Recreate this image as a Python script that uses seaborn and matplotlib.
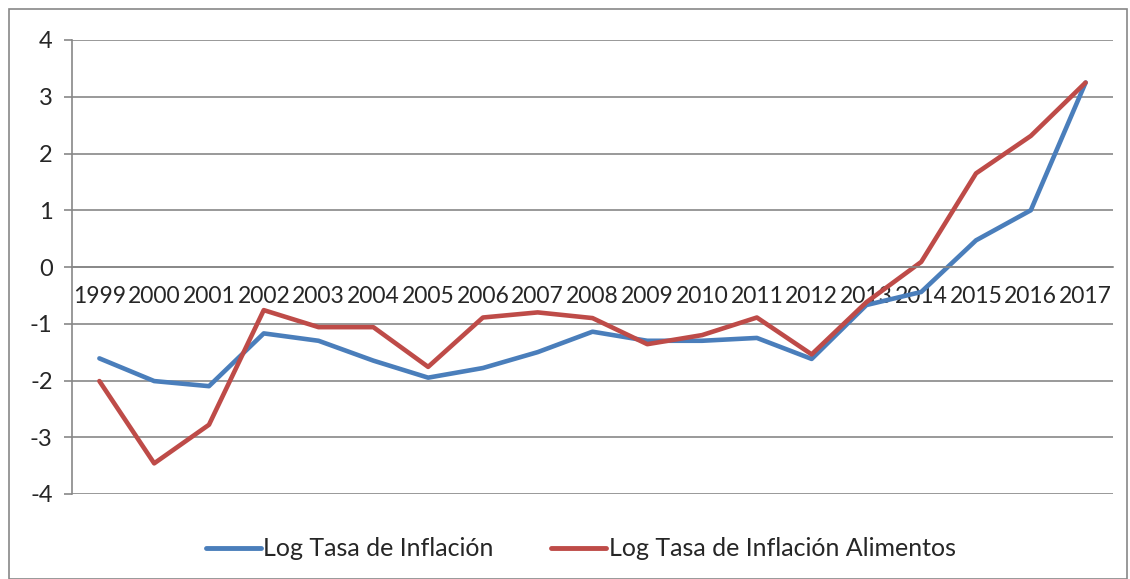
import pandas as pd
import numpy as np
import matplotlib
matplotlib.use("Agg")
import matplotlib.pyplot as plt
import seaborn as sns
from matplotlib.patches import Rectangle

# Data
years = [str(y) for y in range(1999, 2018)]
log_inflacion = [-1.61, -2.01, -2.10, -1.17, -1.30, -1.65, -1.95, -1.78, -1.50, -1.14,
                 -1.30, -1.30, -1.25, -1.62, -0.67, -0.44, 0.47, 1.00, 3.25]
log_inflacion_alim = [-2.01, -3.46, -2.78, -0.76, -1.06, -1.06, -1.76, -0.89, -0.80, -0.90,
                      -1.36, -1.20, -0.89, -1.54, -0.62, 0.09, 1.65, 2.31, 3.25]

serie_1 = "Log Tasa de Inflación"
serie_2 = "Log Tasa de Inflación Alimentos"

df = pd.DataFrame({
    "idx": list(range(len(years))) * 2,
    "valor": log_inflacion + log_inflacion_alim,
    "serie": [serie_1] * len(years) + [serie_2] * len(years),
})

sns.set_style("white")
plt.rcParams['font.family'] = ['Lato', 'DejaVu Sans']

colors = {serie_1: "#4A7EBB", serie_2: "#BE4B48"}

fig = plt.figure(figsize=(11.3, 5.79), dpi=100)
ax = fig.add_axes([72 / 1130, 1 - 494 / 579, (1113 - 72) / 1130, (494 - 40) / 579])

sns.lineplot(data=df, x="idx", y="valor", hue="serie", palette=colors,
             linewidth=3.3, ax=ax, legend=False)

ax.set_xlim(-0.5, len(years) - 0.5)
ax.set_ylim(-4, 4)
ax.set_yticks(range(-4, 5))
ax.set_yticklabels([str(v) for v in range(-4, 5)], fontsize=17)

# horizontal gridlines
ax.yaxis.grid(True, color="#878787", linewidth=1.2)
ax.xaxis.grid(False)
ax.set_axisbelow(True)

for s in ["top", "right"]:
    ax.spines[s].set_visible(False)
ax.spines["left"].set_color("#878787")
ax.spines["left"].set_linewidth(1.2)
ax.spines["bottom"].set_position(("data", 0))
ax.spines["bottom"].set_color("#878787")
ax.spines["bottom"].set_linewidth(1.2)

# category labels centered, tick marks on category boundaries
ax.set_xticks(range(len(years)))
ax.set_xticklabels(years, fontsize=16.5)
ax.set_xticks(np.arange(-0.5, len(years)), minor=True)
ax.tick_params(axis="x", which="major", length=0, pad=14)
ax.tick_params(axis="x", which="minor", direction="in", length=6, color="#878787", width=1.2)
ax.tick_params(axis="y", which="major", direction="out", length=6, color="#878787",
               width=1.2, pad=8, left=True)
ax.set_xlabel("")
ax.set_ylabel("")

# legend at bottom
handles = [plt.Line2D([], [], color=colors[serie_1], linewidth=3.5, solid_capstyle="round"),
           plt.Line2D([], [], color=colors[serie_2], linewidth=3.5, solid_capstyle="round")]
fig.legend(handles, [serie_1, serie_2], loc="center", bbox_to_anchor=(0.514, 1 - 549 / 579),
           ncol=2, frameon=False, fontsize=18, handlelength=2.2, handletextpad=0.1,
           columnspacing=2.3)

# outer chart border
fig.patches.append(Rectangle((9 / 1130, 0), 1 - 12 / 1130, 1 - 9 / 579,
                             transform=fig.transFigure, fill=False,
                             edgecolor="#878787", linewidth=1.2))

fig.savefig("out.png", dpi=100)
